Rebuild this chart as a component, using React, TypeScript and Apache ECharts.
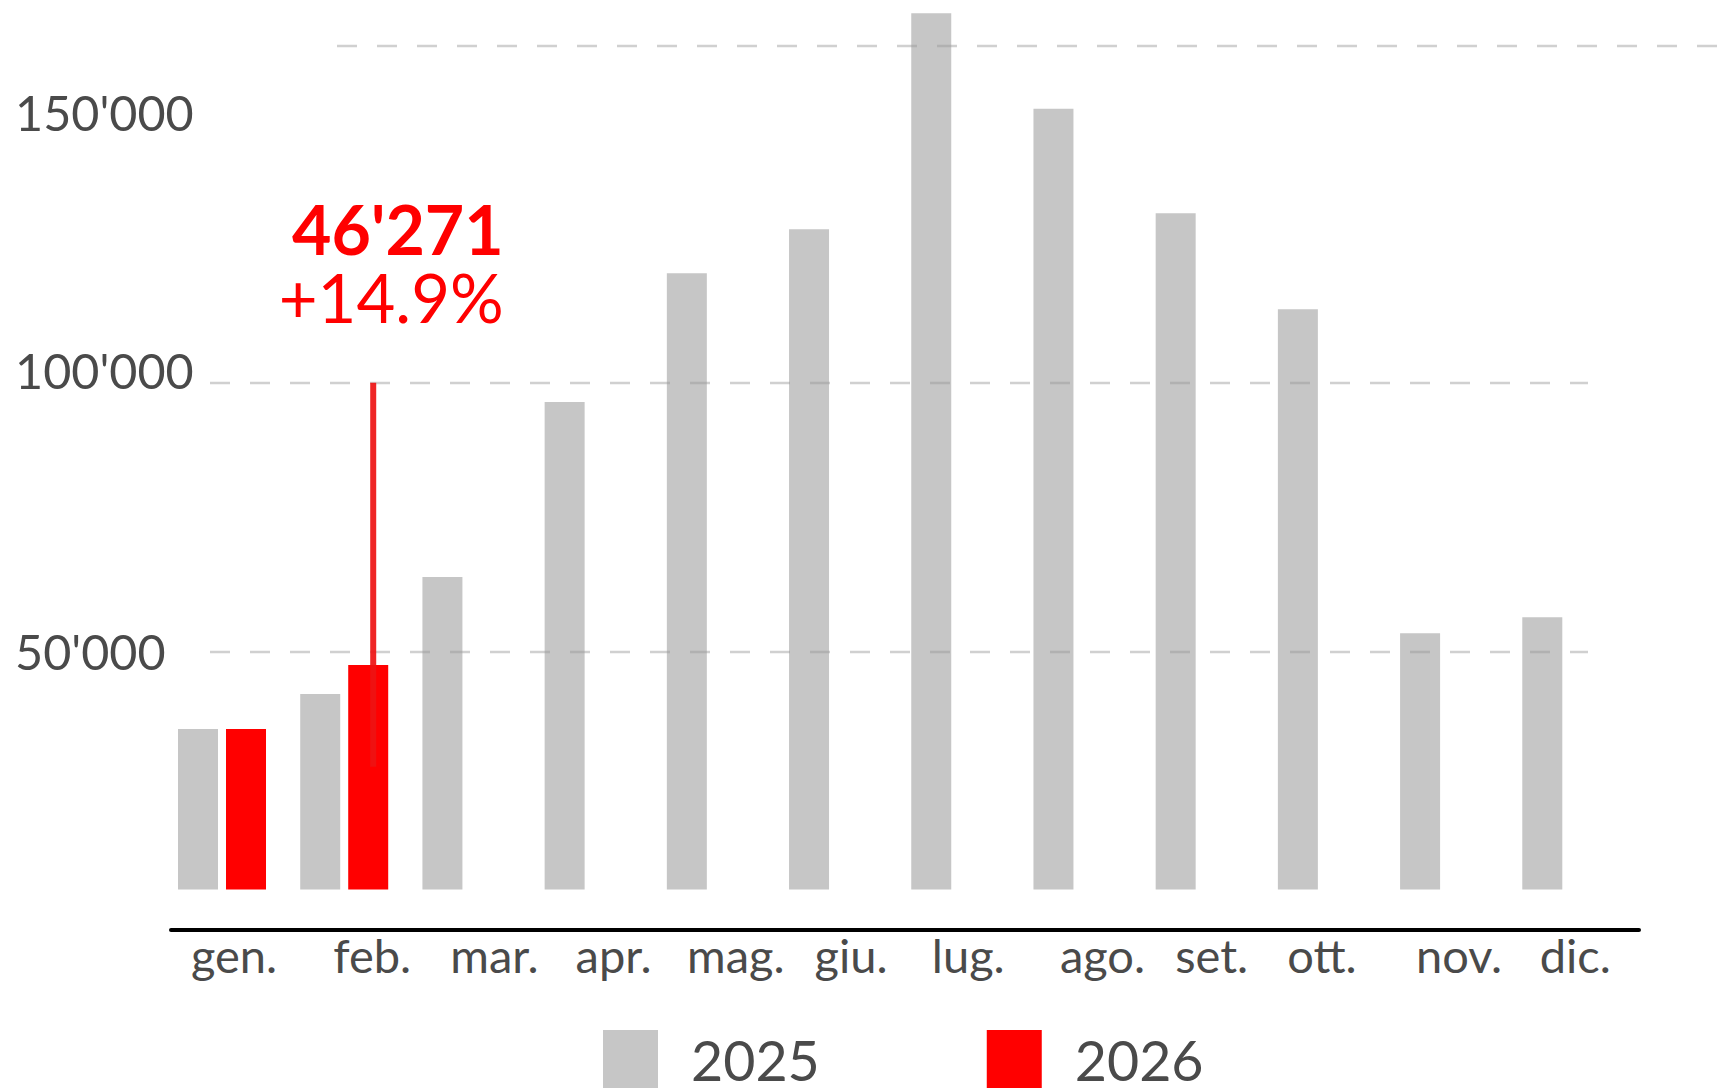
import React, { useEffect, useRef } from 'react';
import * as echarts from 'echarts';

const months = ['gen.', 'feb.', 'mar.', 'apr.', 'mag.', 'giu.', 'lug.', 'ago.', 'set.', 'ott.', 'nov.', 'dic.'];
const values2025 = [33100, 40270, 64400, 100500, 127000, 136100, 180600, 160900, 139400, 119600, 52800, 56100];
const values2026: (number | null)[] = [33100, 46271, null, null, null, null, null, null, null, null, null, null];
const seriesNames = ['2025', '2026'];
const yTickMax = 150000;
const yTickStep = 50000;
const highlightMonth = 'feb.';
const highlightValue = 46271;
const highlightChange = '+14.9%';
const leaderTopValue = 100000;
const leaderBottomValue = 25300;

// horizontal nudges of the month labels (px), as in the reference layout
const monthLabelShift = [12, 28, 28, 25, 25, 18, 13, 25, 12, 0, 15, 9];

const GRAY = '#c6c6c6';
const RED = '#ff0000';
const TEXT = '#4a4a4a';
const FONT = 'Lato, "Noto Sans", sans-serif';

const fmt = (n: number) => String(Math.round(n)).replace(/\B(?=(\d{3})+(?!\d))/g, "'");

export default function App() {
  const ref = useRef<HTMLDivElement>(null);

  useEffect(() => {
    document.body.style.margin = '0';
    if (!ref.current) return;
    const chart = echarts.init(ref.current, undefined, { renderer: 'svg' });
    const gridDash = { type: [20, 20] as number[], color: 'rgba(150,150,150,0.45)', width: 2.4 };

    const monthRich: Record<string, any> = {};
    monthLabelShift.forEach((s, i) => {
      monthRich['m' + i] = {
        fontFamily: FONT,
        fontSize: 47,
        color: TEXT,
        padding: [0, 0, 0, 2 * s],
      };
    });

    chart.setOption({
      animation: false,
      backgroundColor: '#ffffff',
      grid: [
        { left: 160.9, right: 89.6, top: 1.6, bottom: 199.5 },
        { left: 210, right: 129, top: 113.4, bottom: 167.7 },
        { left: 337, right: 0, top: 46, bottom: 167.7 },
        { left: 171, right: 78, top: 900, bottom: 159.5 },
      ],
      xAxis: [
        {
          type: 'category',
          gridIndex: 0,
          data: months,
          axisLine: { show: false },
          axisTick: { show: false },
          splitLine: { show: false },
          axisLabel: {
            fontFamily: FONT,
            fontSize: 47,
            color: TEXT,
            margin: 42,
            interval: 0,
            formatter: (v: string, i: number) => `{m${i}|${v}}`,
            rich: monthRich,
          },
        },
        { type: 'value', gridIndex: 1, show: false, min: 0, max: 1 },
        { type: 'value', gridIndex: 2, show: false, min: 0, max: 1 },
        {
          type: 'value',
          gridIndex: 3,
          min: 0,
          max: 1,
          axisLine: { show: true, lineStyle: { color: '#000000', width: 4 } },
          axisTick: { show: false },
          axisLabel: { show: false },
          splitLine: { show: false },
        },
      ],
      yAxis: [
        { type: 'value', gridIndex: 0, min: 0, max: 183000, show: false, splitLine: { show: false } },
        {
          type: 'value',
          gridIndex: 1,
          min: 0,
          max: yTickMax,
          interval: yTickStep,
          z: 5,
          axisLine: { show: false },
          axisTick: { show: false },
          axisLabel: {
            fontFamily: FONT,
            fontSize: 48.5,
            color: TEXT,
            align: 'left',
            margin: 195,
            showMinLabel: false,
            formatter: (v: number) => (v === 100000 ? `{up|${fmt(v)}}` : `{n|${fmt(v)}}`),
            rich: {
              n: { fontFamily: FONT, fontSize: 48.5, color: TEXT, padding: [0, 0, 3, 0] },
              up: { fontFamily: FONT, fontSize: 48.5, color: TEXT, padding: [0, 0, 25, 0] },
            },
          },
          splitLine: { show: true, showMinLine: false, showMaxLine: false, lineStyle: gridDash },
        },
        {
          type: 'value',
          gridIndex: 2,
          min: 0,
          max: 1,
          interval: 1,
          z: 5,
          axisLine: { show: false },
          axisTick: { show: false },
          axisLabel: { show: false },
          splitLine: { show: true, showMinLine: false, showMaxLine: true, lineStyle: gridDash },
        },
        { type: 'value', gridIndex: 3, show: false, min: 0, max: 1 },
      ],
      legend: {
        left: 598,
        top: 1025,
        itemWidth: 55,
        itemHeight: 58,
        itemGap: 167,
        icon: 'rect',
        data: seriesNames,
        textStyle: {
          fontFamily: FONT,
          fontSize: 55.5,
          lineHeight: 44,
          color: TEXT,
          padding: [0, 0, 0, 28],
        },
      },
      series: [
        {
          name: seriesNames[0],
          type: 'bar',
          xAxisIndex: 0,
          yAxisIndex: 0,
          data: values2025,
          barWidth: 40,
          barGap: '20%',
          itemStyle: { color: GRAY },
          z: 2,
        },
        {
          name: seriesNames[1],
          type: 'bar',
          xAxisIndex: 0,
          yAxisIndex: 0,
          data: values2026,
          barWidth: 40,
          barGap: '20%',
          itemStyle: { color: RED },
          z: 2,
        },
      ],
    });

    const p = chart.convertToPixel({ xAxisIndex: 0, yAxisIndex: 0 }, [highlightMonth, highlightValue]) as number[];
    const lineX = p[0] + 24 + 5;
    const yTop = chart.convertToPixel({ yAxisIndex: 1 }, leaderTopValue) as number;
    const yBottom = chart.convertToPixel({ yAxisIndex: 0 }, leaderBottomValue) as number;
    const textRight = lineX + 130.5;

    chart.setOption({
      graphic: [
        {
          type: 'line',
          z: 10,
          shape: { x1: lineX, y1: yTop, x2: lineX, y2: yBottom },
          style: { stroke: 'rgba(238,18,18,0.92)', lineWidth: 6 },
        },
        {
          type: 'text',
          z: 10,
          x: textRight,
          y: yTop - 120,
          style: {
            text: `{a|${fmt(highlightValue)}}\n{b|${highlightChange}}`,
            align: 'right',
            verticalAlign: 'middle',
            rich: {
              a: { fill: RED, fontFamily: FONT, fontWeight: 'bold', fontSize: 68, lineHeight: 68 },
              b: { fill: RED, fontFamily: FONT, fontSize: 67, lineHeight: 68 },
            },
          },
        },
      ],
    });

    return () => chart.dispose();
  }, []);

  return <div ref={ref} style={{ width: 1717, height: 1089 }} />;
}
